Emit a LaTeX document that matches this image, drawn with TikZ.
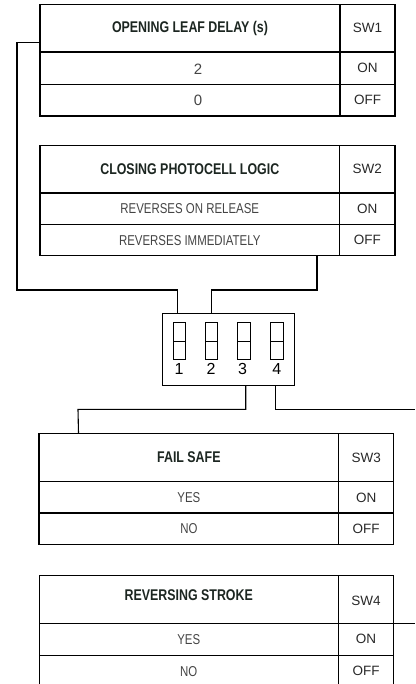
\documentclass[tikz,border=0pt]{standalone}
\usepackage{fontspec}
\setmainfont{Liberation Sans}[FakeStretch=0.8]
\newfontfamily\widefont{Liberation Sans}
\definecolor{hdr}{RGB}{28,38,33}
\definecolor{rowtxt}{RGB}{68,68,68}
\definecolor{swtxt}{RGB}{40,40,40}
\tikzset{
  cell/.style={draw=black, line width=1.2pt, anchor=north west, inner sep=0pt, outer sep=0pt},
  hdrtext/.style={font=\fontsize{15.5}{16}\selectfont\bfseries, text=hdr},
  rowtext/.style={font=\fontsize{14.3}{15}\selectfont, text=rowtxt},
  numtext/.style={font=\widefont\fontsize{15}{15}\selectfont, text=rowtxt, inner sep=0pt},
  swlabel/.style={font=\widefont\fontsize{13.5}{14}\selectfont, text=swtxt},
  wire/.style={draw=black, line width=1.1pt},
  dipbox/.style={draw=black, line width=1.1pt, anchor=north west, inner sep=0pt, outer sep=0pt, minimum width=132pt, minimum height=72pt},
  dipsw/.style={draw=black, line width=1pt, inner sep=0pt, outer sep=0pt, minimum width=12.4pt, minimum height=36.6pt},
  digit/.style={font=\widefont\fontsize{16}{16}\selectfont, text=black, inner sep=0pt}
}
\begin{document}
\begin{tikzpicture}[x=1pt,y=-1pt]
\useasboundingbox (0,0) rectangle (415,684);

% ---- Table 1: SW1
\node[cell, hdrtext, minimum width=300pt, minimum height=47.5pt] (t1h) at (40,4.5) {OPENING LEAF DELAY (s)};
\node[cell, swlabel, minimum width=55pt, minimum height=47.5pt] (t1sw) at (340,4.5) {SW1};
\node[cell, minimum width=300pt, minimum height=32.5pt] (t1on) at (40,52) {};
\node[numtext] (t1ont) at ([xshift=8pt,yshift=-1pt]t1on.center) {2};
\node[cell, swlabel, minimum width=55pt, minimum height=32.5pt] (t1onv) at (340,52) {ON};
\node[cell, minimum width=300pt, minimum height=31.5pt] (t1off) at (40,84.5) {};
\node[numtext] (t1offt) at ([xshift=8pt]t1off.center) {0};
\node[cell, swlabel, minimum width=55pt, minimum height=31.5pt] (t1offv) at (340,84.5) {OFF};

% ---- Table 2: SW2
\node[cell, hdrtext, minimum width=299.5pt, minimum height=47.5pt] (t2h) at (40,145.5) {CLOSING PHOTOCELL LOGIC};
\node[cell, swlabel, minimum width=55.5pt, minimum height=47.5pt] (t2sw) at (339.5,145.5) {SW2};
\node[cell, rowtext, minimum width=299.5pt, minimum height=31.5pt] (t2on) at (40,193) {REVERSES ON RELEASE};
\node[cell, swlabel, minimum width=55.5pt, minimum height=31.5pt] (t2onv) at (339.5,193) {ON};
\node[cell, rowtext, minimum width=299.5pt, minimum height=31.2pt] (t2off) at (40,224.5) {REVERSES IMMEDIATELY};
\node[cell, swlabel, minimum width=55.5pt, minimum height=31.2pt] (t2offv) at (339.5,224.5) {OFF};

% ---- DIP switch
\node[dipbox] (dip) at (162.7,313.5) {};
\node[dipsw] (s1) at (179.5,341) {};
\node[dipsw] (s2) at (211.35,341) {};
\node[dipsw] (s3) at (243.85,341) {};
\node[dipsw] (s4) at (277.15,341) {};
\foreach \s in {s1,s2,s3,s4} { \draw[line width=1pt] (\s.west) -- (\s.east); }
\node[digit] (d1) at (179,369.3) {1};
\node[digit] (d2) at (211,369.3) {2};
\node[digit] (d3) at (242.5,369.3) {3};
\node[digit] (d4) at (276.7,369.3) {4};

% ---- Table 3: SW3
\node[cell, hdrtext, minimum width=299.7pt, minimum height=48.4pt] (t3h) at (39,433.3) {FAIL SAFE};
\node[cell, swlabel, minimum width=55pt, minimum height=48.4pt] (t3sw) at (338.7,433.3) {SW3};
\node[cell, rowtext, minimum width=299.7pt, minimum height=31.3pt] (t3on) at (39,481.7) {YES};
\node[cell, swlabel, minimum width=55pt, minimum height=31.3pt] (t3onv) at (338.7,481.7) {ON};
\node[cell, rowtext, minimum width=299.7pt, minimum height=31.7pt] (t3off) at (39,513) {NO};
\node[cell, swlabel, minimum width=55pt, minimum height=31.7pt] (t3offv) at (338.7,513) {OFF};

% ---- Table 4: SW4
\node[cell, minimum width=299pt, minimum height=47.6pt] (t4h) at (39.3,575.7) {};
\node[hdrtext, inner sep=0pt] (t4ht) at ([yshift=4pt]t4h.center) {REVERSING STROKE};
\node[cell, minimum width=55.4pt, minimum height=47.6pt] (t4sw) at (338.3,575.7) {};
\node[swlabel, inner sep=0pt] (t4swt) at ([yshift=-1.2pt]t4sw.center) {SW4};
\node[cell, rowtext, minimum width=299pt, minimum height=32pt] (t4on) at (39.3,623.3) {YES};
\node[cell, swlabel, minimum width=55.4pt, minimum height=32pt] (t4onv) at (338.3,623.3) {ON};
\node[cell, rowtext, minimum width=299pt, minimum height=32pt] (t4off) at (39.3,655.3) {NO};
\node[cell, swlabel, minimum width=55.4pt, minimum height=32pt] (t4offv) at (338.3,655.3) {OFF};

% ---- connectors
\coordinate (j1) at (17,290);
\coordinate (j2) at (211.7,290);
\coordinate (j3) at (78,409.3);
\coordinate (e4) at (415,409.3);
\coordinate (e5) at (415,623.3);
\draw[wire] ([yshift=-14.45pt]t1h.west) -| (j1) -| ([xshift=-51.4pt]dip.north);
\draw[wire] ([xshift=127.25pt]t2off.south) |- (j2) -- ([xshift=-17pt]dip.north);
\draw[wire] ([xshift=17pt]dip.south) |- (j3) -- ([xshift=-110.35pt]t3h.north);
\draw[wire] ([xshift=47pt]dip.south) |- (e4);
\draw[wire] (t4sw.south east) -- (e5);
\end{tikzpicture}
\end{document}
